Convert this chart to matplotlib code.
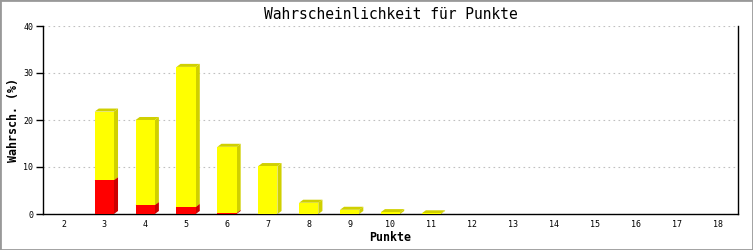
import matplotlib
matplotlib.use('Agg')
import matplotlib.pyplot as plt
from matplotlib.patches import Polygon, Rectangle
import numpy as np

# Punkte und Wahrscheinlichkeiten (%)
punkte = list(range(2, 19))
gesamt = [0, 21.8, 20.0, 31.3, 14.3, 10.2, 2.4, 0.9, 0.4, 0.15, 0, 0, 0, 0, 0, 0, 0]
rot = [0, 7.2, 1.9, 1.5, 0.2, 0, 0, 0, 0, 0, 0, 0, 0, 0, 0, 0, 0]
gelb = [g - r for g, r in zip(gesamt, rot)]

plt.rcParams['font.family'] = ['DejaVu Sans Mono']

fig = plt.figure(figsize=(7.53, 2.50), dpi=100)
ax = fig.add_axes([43 / 753, 36 / 250, 695 / 753, 188 / 250])

breite = 0.47
dx, dy = 0.1, 0.64  # Tiefe für den 3D-Effekt


def balken3d(x, unten, hoehe, farbe, dunkel):
    if hoehe <= 0:
        return
    x0, x1 = x - breite / 2, x + breite / 2
    y0, y1 = unten, unten + hoehe
    seite = Polygon([(x1, y0), (x1 + dx, y0 + dy), (x1 + dx, y1 + dy), (x1, y1)],
                    closed=True, facecolor=dunkel, edgecolor='none', zorder=2)
    oben = Polygon([(x0, y1), (x0 + dx, y1 + dy), (x1 + dx, y1 + dy), (x1, y1)],
                   closed=True, facecolor=dunkel, edgecolor='none', zorder=2)
    ax.add_patch(seite)
    ax.add_patch(oben)
    ax.add_patch(Rectangle((x0, y0), breite, hoehe, facecolor=farbe,
                           edgecolor='none', zorder=3))


# erst rot (unten), dann gelb drüber
for x, r in zip(punkte, rot):
    balken3d(x, 0, r, '#ff0000', '#cc0000')
for x, r, g in zip(punkte, rot, gelb):
    balken3d(x, r, g, '#ffff00', '#d0d000')

ax.set_xlim(1.5, 18.5)
ax.set_ylim(0, 40)
ax.set_xticks(punkte)
ax.set_yticks([0, 10, 20, 30, 40])
ax.tick_params(axis='x', length=0, labelsize=6, pad=4)
ax.tick_params(axis='y', length=5, width=1, labelsize=6, pad=2)
ax.yaxis.grid(True, linestyle=(0, (1.5, 3)), color='#c0c0c0', linewidth=0.8)
ax.set_axisbelow(True)
ax.spines['top'].set_visible(False)
for s in ['left', 'bottom', 'right']:
    ax.spines[s].set_linewidth(1)

ax.set_title('Wahrscheinlichkeit für Punkte', fontsize=10.5, pad=5)
ax.set_xlabel('Punkte', fontsize=8.4, fontweight='bold', labelpad=2)
ax.set_ylabel('Wahrsch. (%)', fontsize=8.4, fontweight='bold', labelpad=2)

# grauer Rahmen um das Bild
fig.patches.append(Rectangle((0, 0), 1, 1, transform=fig.transFigure, fill=False,
                             edgecolor='#999999', linewidth=2))

fig.savefig('out.png', dpi=100)
